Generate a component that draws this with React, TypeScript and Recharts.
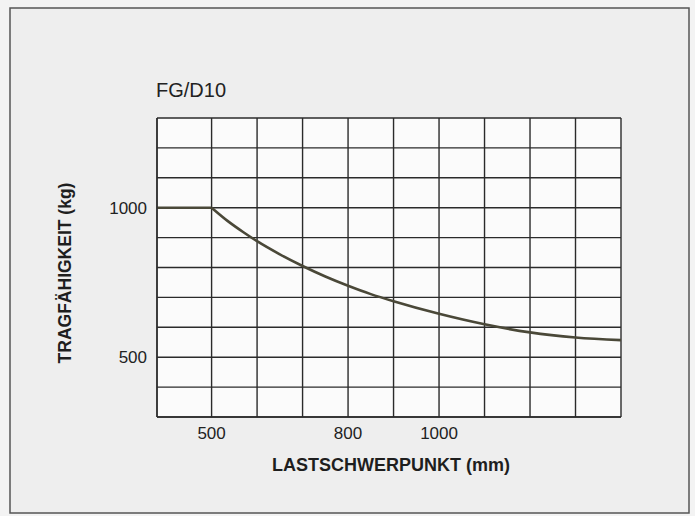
import React from "react";
import { LineChart, Line, XAxis, YAxis, CartesianGrid } from "recharts";

// Load centre of gravity (mm) and capacity (kg)
const flatX = [380, 500];
const flatY = [1000, 1000];
const curveX = [500, 535, 570, 600, 650, 700, 750, 800, 850, 900, 1000, 1100, 1200, 1300, 1400];
const curveY = [1000, 956, 918, 888, 844, 805, 770, 739, 711, 687, 645, 610, 583, 566, 557];

const xTicks = [500, 600, 700, 800, 900, 1000, 1100, 1200, 1300, 1400];
const xTickLabels = [500, 800, 1000];
const yTicks = [300, 400, 500, 600, 700, 800, 900, 1000, 1100, 1200, 1300];
const yTickLabels = [500, 1000];

const title = "FG/D10";
const xLabel = "LASTSCHWERPUNKT (mm)";
const yLabel = "TRAGFÄHIGKEIT (kg)";

const xs = Array.from(new Set([...flatX, ...curveX])).sort((a, b) => a - b);
const data = xs.map((x) => {
  const row: any = { x };
  const fi = flatX.indexOf(x);
  if (fi >= 0) row.flat = flatY[fi];
  const ci = curveX.indexOf(x);
  if (ci >= 0) row.curve = curveY[ci];
  return row;
});

const FONT = "'Liberation Sans', Arial, Helvetica, sans-serif";
const INK = "#2b2b2b";

export default function App() {
  return (
    <div style={{ position: "absolute", left: 0, top: 0, width: 695, height: 516, background: "#f1f1f1" }}>
      <svg width={695} height={516} style={{ position: "absolute", left: 0, top: 0 }}>
        <rect x={0} y={0} width={695} height={516} fill="#f3f3f3" />
        <rect x={10} y={8} width={679} height={505} fill="#eeeeee" stroke="#555" strokeWidth={1.5} />
        <text x={156} y={97} fontFamily={FONT} fontSize={20} fill="#222">{title}</text>
        <text x={391} y={471} fontFamily={FONT} fontSize={18} fontWeight="bold" fill="#1e1e1e" textAnchor="middle">{xLabel}</text>
        <text
          x={71}
          y={273}
          fontFamily={FONT}
          fontSize={17.5}
          fontWeight="bold"
          fill="#1e1e1e"
          textAnchor="middle"
          transform="rotate(-90, 71, 273)"
        >
          {yLabel}
        </text>
      </svg>
      <div style={{ position: "absolute", left: 0, top: 0 }}>
        <LineChart width={695} height={516} data={data} margin={{ top: 118, right: 74, bottom: 59, left: 97 }}>
          <CartesianGrid stroke={INK} strokeWidth={1.4} fill="#fbfbfb" fillOpacity={1} />
          <XAxis
            dataKey="x"
            type="number"
            domain={[380, 1400]}
            ticks={xTicks}
            height={40}
            tickSize={0}
            tickMargin={10}
            axisLine={{ stroke: INK, strokeWidth: 1.4 }}
            tick={{ fill: "#222", fontSize: 17, fontFamily: FONT }}
            tickFormatter={(v: number) => (xTickLabels.includes(v) ? String(v) : "")}
            interval={0}
          />
          <YAxis
            type="number"
            domain={[300, 1300]}
            ticks={yTicks}
            width={60}
            tickSize={0}
            tickMargin={10}
            axisLine={{ stroke: INK, strokeWidth: 1.4 }}
            tick={{ fill: "#222", fontSize: 17, fontFamily: FONT }}
            tickFormatter={(v: number) => (yTickLabels.includes(v) ? String(v) : "")}
            interval={0}
          />
          <Line
            dataKey="flat"
            type="linear"
            stroke="#4a4838"
            strokeWidth={2.6}
            dot={false}
            activeDot={false}
            connectNulls={false}
            isAnimationActive={false}
          />
          <Line
            dataKey="curve"
            type="monotone"
            stroke="#4a4838"
            strokeWidth={2.6}
            dot={false}
            activeDot={false}
            connectNulls={true}
            isAnimationActive={false}
          />
        </LineChart>
      </div>
    </div>
  );
}
